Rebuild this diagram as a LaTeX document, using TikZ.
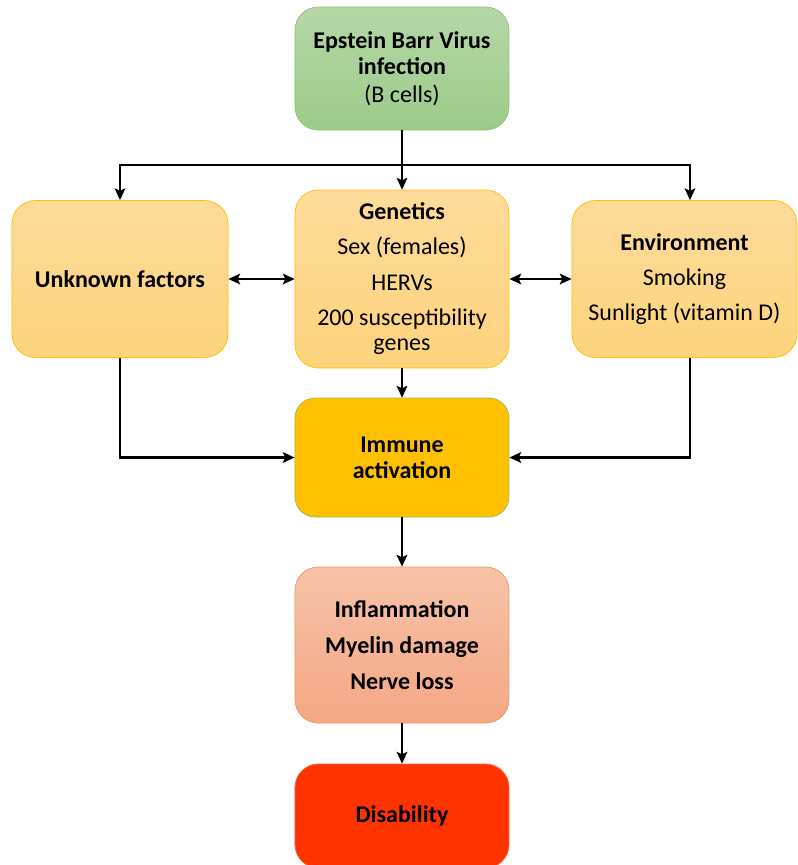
\documentclass[tikz,border=0pt]{standalone}
\usepackage{fontspec}
\setmainfont{Carlito}
\usetikzlibrary{positioning,arrows.meta}

\definecolor{ebvtop}{HTML}{B6D7A8}
\definecolor{ebvbot}{HTML}{9CCB88}
\definecolor{ebvline}{HTML}{8DC070}
\definecolor{yeltop}{HTML}{FDDB9A}
\definecolor{yelbot}{HTML}{FDD37C}
\definecolor{yelline}{HTML}{FFC000}
\definecolor{immfill}{HTML}{FFC000}
\definecolor{immline}{HTML}{9BBB59}
\definecolor{inftop}{HTML}{F7C3A8}
\definecolor{infbot}{HTML}{F4A784}
\definecolor{infline}{HTML}{F0955F}
\definecolor{disfill}{HTML}{FF3300}
\definecolor{disline}{HTML}{FF6633}

\begin{document}
\begin{tikzpicture}[x=0.3mm,y=0.3mm,on grid,
  >={Stealth[length=10pt,width=9pt,inset=2pt]},
  box/.style={rounded corners=7mm,align=center,minimum width=64.2mm,
    font=\fontsize{20.5}{22}\selectfont,line width=0.6pt,inner sep=2pt},
  ebvbox/.style={box,draw=ebvline,top color=ebvtop,bottom color=ebvbot},
  factor/.style={box,draw=yelline,top color=yeltop,bottom color=yelbot},
  immbox/.style={box,draw=immline,fill=immfill,rounded corners=6mm},
  infbox/.style={box,draw=infline,top color=inftop,bottom color=infbot},
  disbox/.style={box,draw=disline,fill=disfill},
  link/.style={line width=2pt}]
	\useasboundingbox (-402,68.5) rectangle (396,-796.5);

	\node[ebvbox,minimum height=36.9mm] (ebv) at (0,0)
		{\textbf{Epstein Barr Virus}\\\textbf{infection}\\[2pt](B cells)};
	\node[factor,minimum height=53.4mm] (gen) [below=63.15mm of ebv]
		{\textbf{Genetics}\\[8pt]Sex (females)\\[8pt]HERVs\\[8pt]200 susceptibility\\genes};
	\node[factor,minimum width=64.8mm,minimum height=47.1mm] (unk) [left=84.6mm of gen]
		{\textbf{Unknown factors}};
	\node[factor,minimum width=67.5mm,minimum height=47.1mm] (env) [right=84.75mm of gen]
		{\textbf{Environment}\\[8pt]Smoking\\[8pt]Sunlight (vitamin D)};
	\node[immbox,minimum height=35.7mm] (imm) [below=53.55mm of gen]
		{\textbf{Immune}\\\textbf{activation}};
	\node[infbox,minimum height=46.8mm] (inf) [below=56.25mm of imm]
		{\textbf{Inflammation}\\[9pt]\textbf{Myelin damage}\\[9pt]\textbf{Nerve loss}};
	\node[disbox,minimum height=31.2mm] (dis) [below=51.3mm of inf]
		{\textbf{Disability}};

	\coordinate (bus) at ([yshift=-28.95mm]ebv.center);

	% EBV branches out to the three factors
	\draw[link,->] (ebv) -- (gen);
	\draw[link,->] (bus) -| (unk);
	\draw[link,->] (bus) -| ([xshift=1.65mm]env.north);
	% factors act on one another
	\draw[link,<->] (unk) -- (gen);
	\draw[link,<->] (gen) -- (env);
	% factors lead to immune activation
	\draw[link,->] (gen) -- (imm);
	\draw[link,->] (unk) |- (imm);
	\draw[link,->] ([xshift=1.65mm]env.south) |- (imm);
	\draw[link,->] (imm) -- (inf);
	\draw[link,->] (inf) -- (dis);
\end{tikzpicture}
\end{document}
